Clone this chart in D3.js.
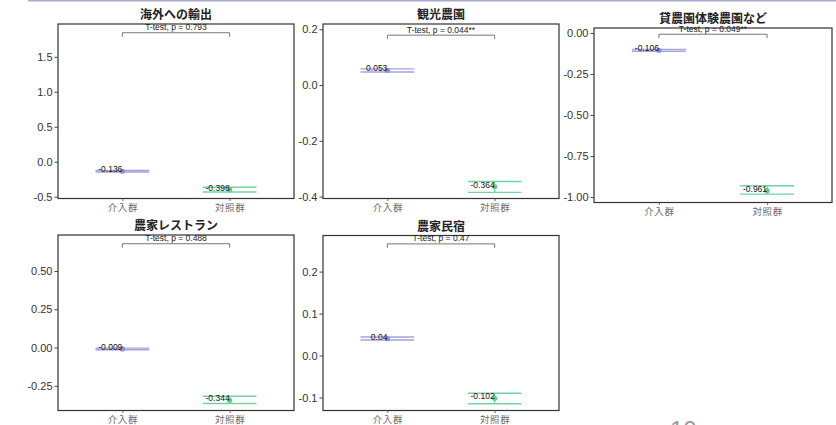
<!DOCTYPE html>
<html>
<head>
<meta charset="utf-8">
<script src="https://cdn.jsdelivr.net/npm/d3@7"></script>
<style>
  html, body { margin: 0; padding: 0; background: #fff; }
  svg { display: block; font-family: "Liberation Sans", Arial, "Noto Sans CJK JP", sans-serif; }
</style>
</head>
<body>
<svg id="chart" width="836" height="425"></svg>
<script>
// ---- data ----
const titles = ["海外への輸出", "観光農園", "貸農園体験農園など", "農家レストラン", "農家民宿"];
const groups = ["介入群", "対照群"];
const meanIntervention = [-0.136, 0.053, -0.106, -0.009, 0.04];
const meanControl      = [-0.398, -0.364, -0.961, -0.344, -0.102];
const lowIntervention  = [-0.146, 0.047, -0.112, -0.014, 0.037];
const highIntervention = [-0.126, 0.058, -0.100, -0.004, 0.044];
const lowControl       = [-0.432, -0.385, -0.982, -0.365, -0.115];
const highControl      = [-0.365, -0.346, -0.931, -0.318, -0.090];
const pLabels = ["0.793", "0.044**", "0.049**", "0.488", "0.47"];
const bracketLevel = [1.845, 0.179, -0.008, 0.678, 0.266];
const yDomains = [[-0.526, 1.97], [-0.407, 0.219], [-1.033, 0.03], [-0.411, 0.735], [-0.131, 0.286]];
const yTicks = [
  [-0.5, 0, 0.5, 1, 1.5],
  [-0.4, -0.2, 0, 0.2],
  [-1, -0.75, -0.5, -0.25, 0],
  [-0.25, 0, 0.25, 0.5],
  [-0.1, 0, 0.1, 0.2]
];
const tickFormats = [".1f", ".1f", ".2f", ".2f", ".1f"];

// ---- layout ----
const boxes = [
  { x0: 58,  x1: 294, y0: 24,    y1: 198.5 },
  { x0: 323, x1: 559, y0: 24,    y1: 198.5 },
  { x0: 594, x1: 832, y0: 28,    y1: 202.5 },
  { x0: 58,  x1: 294, y0: 235,   y1: 410.5 },
  { x0: 323, x1: 559, y0: 235.5, y1: 410.5 }
];
const groupColors = { line: ["#a3a3dc", "#6fd6a2"], point: ["#8d8dd2", "#5ccb90"] };

const locale = d3.formatLocale({ decimal: ".", thousands: ",", grouping: [3], currency: ["", ""], minus: "-" });
const svg = d3.select("#chart");

// slide header rule and page number
svg.append("line").attr("x1", 28).attr("x2", 836).attr("y1", 0.5).attr("y2", 0.5)
  .attr("stroke", "#a9a9cf").attr("stroke-width", 2);
svg.append("text").attr("x", 670).attr("y", 438).attr("font-size", 24)
  .attr("fill", "#9a9a9a").text("10");

titles.forEach((title, i) => {
  const b = boxes[i];
  const g = svg.append("g");
  const x = d3.scalePoint().domain(groups).range([b.x0, b.x1]).padding(0.6);
  const y = d3.scaleLinear().domain(yDomains[i]).range([b.y1, b.y0]);
  const half = x.step() * 0.25;

  g.append("rect").attr("x", b.x0).attr("y", b.y0)
    .attr("width", b.x1 - b.x0).attr("height", b.y1 - b.y0)
    .attr("fill", "#fff").attr("stroke", "#333").attr("stroke-width", 1.2);

  g.append("text").attr("x", (b.x0 + b.x1) / 2).attr("y", b.y0 - 5)
    .attr("text-anchor", "middle").attr("font-size", 12).attr("font-weight", "bold")
    .attr("fill", "#222").text(title);

  // y axis
  const yAxis = d3.axisLeft(y).tickValues(yTicks[i]).tickSize(3.5).tickPadding(2)
    .tickFormat(locale.format(tickFormats[i]));
  const ya = g.append("g").attr("transform", `translate(${b.x0},0)`).call(yAxis);
  ya.select(".domain").remove();
  ya.selectAll("line").attr("stroke", "#444");
  ya.selectAll("text").attr("font-size", 11).attr("fill", "#333")
    .attr("font-family", "Liberation Sans, Arial, sans-serif");

  // x axis
  const xAxis = d3.axisBottom(x).tickSize(2.5).tickPadding(3);
  const xa = g.append("g").attr("transform", `translate(0,${b.y1})`).call(xAxis);
  xa.select(".domain").remove();
  xa.selectAll("line").attr("stroke", "#666");
  xa.selectAll("text").attr("font-size", 9.5).attr("fill", "#6a6a6a")
    .attr("letter-spacing", 0.6)
    .attr("font-family", "Noto Sans CJK JP, sans-serif");

  // per-group error bars, means and labels
  const rows = [
    { grp: groups[0], mean: meanIntervention[i], lo: lowIntervention[i], hi: highIntervention[i], k: 0 },
    { grp: groups[1], mean: meanControl[i],      lo: lowControl[i],      hi: highControl[i],      k: 1 }
  ];
  rows.forEach(r => {
    const cx = x(r.grp);
    const col = groupColors.line[r.k];
    [r.lo, r.hi].forEach(v => {
      g.append("line").attr("x1", cx - half).attr("x2", cx + half)
        .attr("y1", y(v)).attr("y2", y(v))
        .attr("stroke", col).attr("stroke-width", 1.4);
    });
    g.append("line").attr("x1", cx).attr("x2", cx)
      .attr("y1", y(r.lo)).attr("y2", y(r.hi))
      .attr("stroke", col).attr("stroke-width", 1.4);
    g.append("circle").attr("cx", cx).attr("cy", y(r.mean)).attr("r", 2.6)
      .attr("fill", groupColors.point[r.k]);
    g.append("text").attr("x", cx).attr("y", y(r.mean) + 1)
      .attr("text-anchor", "end").attr("font-size", 8.5).attr("fill", "#111")
      .text(String(r.mean));
  });

  // significance bracket
  const by = y(bracketLevel[i]);
  const xa0 = x(groups[0]), xa1 = x(groups[1]);
  g.append("path")
    .attr("d", `M${xa0},${by + 4}V${by}H${xa1}V${by + 4}`)
    .attr("fill", "none").attr("stroke", "#777").attr("stroke-width", 1);
  g.append("text").attr("x", (xa0 + xa1) / 2).attr("y", by - 2.5)
    .attr("text-anchor", "middle").attr("font-size", 8.5).attr("fill", "#222")
    .text(`T-test, p = ${pLabels[i]}`);
});
</script>
</body>
</html>
